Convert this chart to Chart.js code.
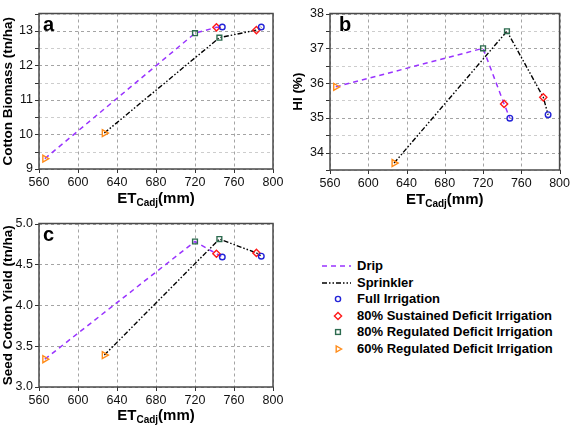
<!DOCTYPE html>
<html><head><meta charset="utf-8">
<script src="https://cdn.jsdelivr.net/npm/chart.js@4.4.0/dist/chart.umd.min.js"></script>
<style>
body{margin:0;background:#fff;width:576px;height:427px;position:relative;overflow:hidden;font-family:"Liberation Sans",Arial,sans-serif;}
canvas{position:absolute;}
#legend{position:absolute;left:318px;top:257px;}
.row{position:absolute;left:0;height:17px;white-space:nowrap;}
.row svg{position:absolute;left:0;top:0;}
.row span{position:absolute;left:39px;top:0;font-weight:bold;font-size:13px;line-height:17px;color:#000;}
</style></head><body>
<canvas id="ca" width="290" height="210" style="left:0;top:0"></canvas>
<canvas id="cb" width="286" height="210" style="left:290px;top:0"></canvas>
<canvas id="cc" width="290" height="217" style="left:0;top:210px"></canvas>
<div id="legend"></div>
<script>
// ---- data (order: Full, 80% SDI, 80% RDI, 60% RDI) ----
const treatments = ['Full Irrigation', '80% Sustained Deficit Irrigation', '80% Regulated Deficit Irrigation', '60% Regulated Deficit Irrigation'];
const systems = ['Drip', 'Sprinkler'];
const etDrip = [748, 742, 720, 566];
const etSprinkler = [788, 783, 745, 627];
const biomassDrip = [13.11, 13.10, 12.93, 9.30];
const biomassSprinkler = [13.11, 13.02, 12.80, 10.04];
const hiDrip = [34.99, 35.40, 37.00, 35.89];
const hiSprinkler = [35.09, 35.59, 37.49, 33.70];
const yieldDrip = [4.59, 4.63, 4.78, 3.34];
const yieldSprinkler = [4.60, 4.64, 4.81, 3.39];
const xTickValues = [560, 600, 640, 680, 720, 760, 800];
const biomassTicks = [9, 10, 11, 12, 13];
const biomassMinor = [9.5, 10.5, 11.5, 12.5, 13.5];
const hiTicks = [34, 35, 36, 37, 38];
const hiMinor = [33.5, 34.5, 35.5, 36.5, 37.5];
const yieldTicks = [3.0, 3.5, 4.0, 4.5, 5.0];
const yieldMinor = [];

// ---- styles ----
const FONT = '"Liberation Sans", Arial, sans-serif';
const dripColor = '#9933ff';
const sprColor = '#000000';
const dripDash = [5, 4];
const sprDash = [5, 2, 1.5, 2, 1.5, 2];
const markerStyles = [
  {color: '#2323d8', style: 'circle', radius: 2.8, rotation: 0},
  {color: '#ff1a1a', style: 'rectRot', radius: 3.6, rotation: 0},
  {color: '#2d6b4f', style: 'rect', radius: 3.4, rotation: 0},
  {color: '#ff8c1a', style: 'triangle', radius: 4, rotation: 90}
];

function linePts(xs, ys) {
  return xs.map((x, i) => ({x, y: ys[i]})).sort((a, b) => a.x - b.x);
}

function buildDatasets(dripY, sprY) {
  const ds = [
    {label: 'Drip', data: linePts(etDrip, dripY), showLine: true, borderColor: dripColor, borderWidth: 1.5, borderDash: dripDash, pointRadius: 0, fill: false, order: 2},
    {label: 'Sprinkler', data: linePts(etSprinkler, sprY), showLine: true, borderColor: sprColor, borderWidth: 1.4, borderDash: sprDash, pointRadius: 0, fill: false, order: 2}
  ];
  treatments.forEach((t, i) => {
    const m = markerStyles[i];
    ds.push({
      label: t,
      data: [{x: etDrip[i], y: dripY[i]}, {x: etSprinkler[i], y: sprY[i]}],
      showLine: false, pointStyle: m.style, pointRadius: m.radius, pointRotation: m.rotation,
      pointBorderColor: m.color, pointBackgroundColor: 'rgba(0,0,0,0)', pointBorderWidth: 1.4,
      pointHoverRadius: m.radius, order: 0
    });
  });
  return ds;
}

const crisp = v => Math.round(v) + 0.5;

// dashed grid drawn through the chart's own scales
const gridPlugin = {
  id: 'dashgrid',
  beforeDatasetsDraw(chart, args, opts) {
    const {ctx, chartArea: {left, top, right, bottom}, scales: {x, y}} = chart;
    ctx.save();
    ctx.lineWidth = 1;
    ctx.setLineDash([3, 3]);
    const hLines = (vals, color) => {
      ctx.strokeStyle = color; ctx.beginPath();
      vals.forEach(v => { const p = crisp(y.getPixelForValue(v)); ctx.moveTo(left, p); ctx.lineTo(right, p); });
      ctx.stroke();
    };
    const vLines = (vals, color) => {
      ctx.strokeStyle = color; ctx.beginPath();
      vals.forEach(v => { const p = crisp(x.getPixelForValue(v)); ctx.moveTo(p, top); ctx.lineTo(p, bottom); });
      ctx.stroke();
    };
    hLines(opts.yMinor, '#cdcdcd');
    hLines(opts.yMajor, '#a4a4a4');
    vLines(xTickValues, '#a4a4a4');
    ctx.restore();
  },
  afterDraw(chart, args, opts) {
    const {ctx, chartArea: {left, top, right, bottom}, scales: {x, y}} = chart;
    ctx.save();
    ctx.setLineDash([]);
    // tick marks (outward)
    ctx.strokeStyle = '#333'; ctx.lineWidth = 1; ctx.beginPath();
    opts.yMajor.concat(opts.yMinor).forEach(v => { const p = crisp(y.getPixelForValue(v)); ctx.moveTo(left - 4, p); ctx.lineTo(left, p); });
    xTickValues.forEach(v => { const p = crisp(x.getPixelForValue(v)); ctx.moveTo(p, bottom); ctx.lineTo(p, bottom + 4); });
    ctx.stroke();
    // frame
    ctx.strokeStyle = '#4a4a4a';
    ctx.lineWidth = 1.5;
    ctx.strokeRect(left, top, right - left, bottom - top);
    // panel letter
    ctx.fillStyle = '#000';
    ctx.textAlign = 'left';
    ctx.textBaseline = 'alphabetic';
    ctx.font = 'bold 20px ' + FONT;
    ctx.fillText(opts.letter, left + opts.letterDx, top + 17);
    // x-axis title: ET_Cadj(mm)
    const big = 'bold 15px ' + FONT, small = 'bold 10px ' + FONT;
    ctx.font = big; const w1 = ctx.measureText('ET').width; const w3 = ctx.measureText('(mm)').width;
    ctx.font = small; const w2 = ctx.measureText('Cadj').width;
    let xx = (left + right) / 2 - (w1 + w2 + w3) / 2;
    const base = bottom + opts.titleOffset;
    ctx.font = big; ctx.fillText('ET', xx, base); xx += w1;
    ctx.font = small; ctx.fillText('Cadj', xx, base + 3); xx += w2;
    ctx.font = big; ctx.fillText('(mm)', xx, base);
    ctx.restore();
  }
};

function makeChart(id, cfg) {
  return new Chart(document.getElementById(id), {
    type: 'scatter',
    data: {datasets: buildDatasets(cfg.dripY, cfg.sprY)},
    options: {
      responsive: false, animation: false, devicePixelRatio: 1,
      layout: {padding: cfg.padding},
      plugins: {legend: {display: false}, tooltip: {enabled: false},
        dashgrid: {letter: cfg.letter, letterDx: cfg.letterDx, titleOffset: cfg.titleOffset, yMajor: cfg.yMajor, yMinor: cfg.yMinor}},
      scales: {
        x: {
          type: 'linear', min: 560, max: 800,
          afterBuildTicks: s => { s.ticks = xTickValues.map(v => ({value: v})); },
          afterFit: s => { s.height = cfg.xHeight; },
          ticks: {color: '#111', font: {family: FONT, size: 12.5}, padding: 6, maxRotation: 0, autoSkip: false, callback: v => String(v)},
          grid: {display: false, drawTicks: false},
          border: {display: false}
        },
        y: {
          type: 'linear', min: cfg.ymin, max: cfg.ymax,
          afterBuildTicks: s => { s.ticks = cfg.yMajor.map(v => ({value: v})); },
          ticks: {color: '#111', font: {family: FONT, size: 12.5}, padding: 6, autoSkip: false, callback: v => cfg.fmt(v)},
          afterFit: s => { s.width = cfg.yWidth; },
          grid: {display: false, drawTicks: false},
          border: {display: false},
          title: {display: true, text: cfg.yTitle, color: '#000', font: {family: FONT, size: 13.5, weight: 'bold'}, padding: 0}
        }
      }
    },
    plugins: [gridPlugin]
  });
}

makeChart('ca', {
  dripY: biomassDrip, sprY: biomassSprinkler, ymin: 9, ymax: 13.5, letter: 'a', letterDx: 4,
  yMajor: biomassTicks, yMinor: biomassMinor, fmt: v => String(v),
  yTitle: 'Cotton Biomass (tn/ha)',
  padding: {top: 6, right: 17, left: 0, bottom: 0}, yWidth: 39, xHeight: 41, titleOffset: 34
});
makeChart('cb', {
  dripY: hiDrip, sprY: hiSprinkler, ymin: 33.5, ymax: 38, letter: 'b', letterDx: 9,
  yMajor: hiTicks, yMinor: hiMinor, fmt: v => String(v),
  yTitle: 'HI (%)',
  padding: {top: 6, right: 10, left: 0, bottom: 0}, yWidth: 40, xHeight: 40, titleOffset: 34
});
makeChart('cc', {
  dripY: yieldDrip, sprY: yieldSprinkler, ymin: 3, ymax: 5, letter: 'c', letterDx: 4,
  yMajor: yieldTicks, yMinor: yieldMinor, fmt: v => v.toFixed(1),
  yTitle: 'Seed Cotton Yield (tn/ha)',
  padding: {top: 13, right: 17, left: 0, bottom: 0}, yWidth: 39, xHeight: 40, titleOffset: 33
});

// ---- legend (HTML) ----
const legend = document.getElementById('legend');
const rowH = 16.6;
function svgFor(kind, i) {
  if (kind === 'line') {
    const c = i === 0 ? dripColor : sprColor;
    const d = (i === 0 ? dripDash : sprDash).join(',');
    return `<svg width="36" height="17"><line x1="4" y1="9" x2="33" y2="9" stroke="${c}" stroke-width="1.6" stroke-dasharray="${d}"/></svg>`;
  }
  const m = markerStyles[i];
  const cx = 20, cy = 9, sw = 1.4;
  let shape = '';
  if (m.style === 'circle') shape = `<circle cx="${cx}" cy="${cy}" r="2.6" fill="none" stroke="${m.color}" stroke-width="${sw}"/>`;
  if (m.style === 'rectRot') shape = `<polygon points="${cx},${cy-3.6} ${cx+3.6},${cy} ${cx},${cy+3.6} ${cx-3.6},${cy}" fill="none" stroke="${m.color}" stroke-width="${sw}"/>`;
  if (m.style === 'rect') shape = `<rect x="${cx-2.4}" y="${cy-2.4}" width="4.8" height="4.8" fill="none" stroke="${m.color}" stroke-width="${sw}"/>`;
  if (m.style === 'triangle') shape = `<polygon points="${cx+3.6},${cy} ${cx-1.8},${cy-3.1} ${cx-1.8},${cy+3.1}" fill="none" stroke="${m.color}" stroke-width="${sw}"/>`;
  return `<svg width="36" height="17">${shape}</svg>`;
}
const items = systems.map((s, i) => ({label: s, svg: svgFor('line', i)}))
  .concat(treatments.map((t, i) => ({label: t, svg: svgFor('marker', i)})));
items.forEach((it, k) => {
  const r = document.createElement('div');
  r.className = 'row';
  r.style.top = (k * rowH) + 'px';
  r.innerHTML = it.svg + `<span>${it.label}</span>`;
  legend.appendChild(r);
});
</script>
</body></html>
